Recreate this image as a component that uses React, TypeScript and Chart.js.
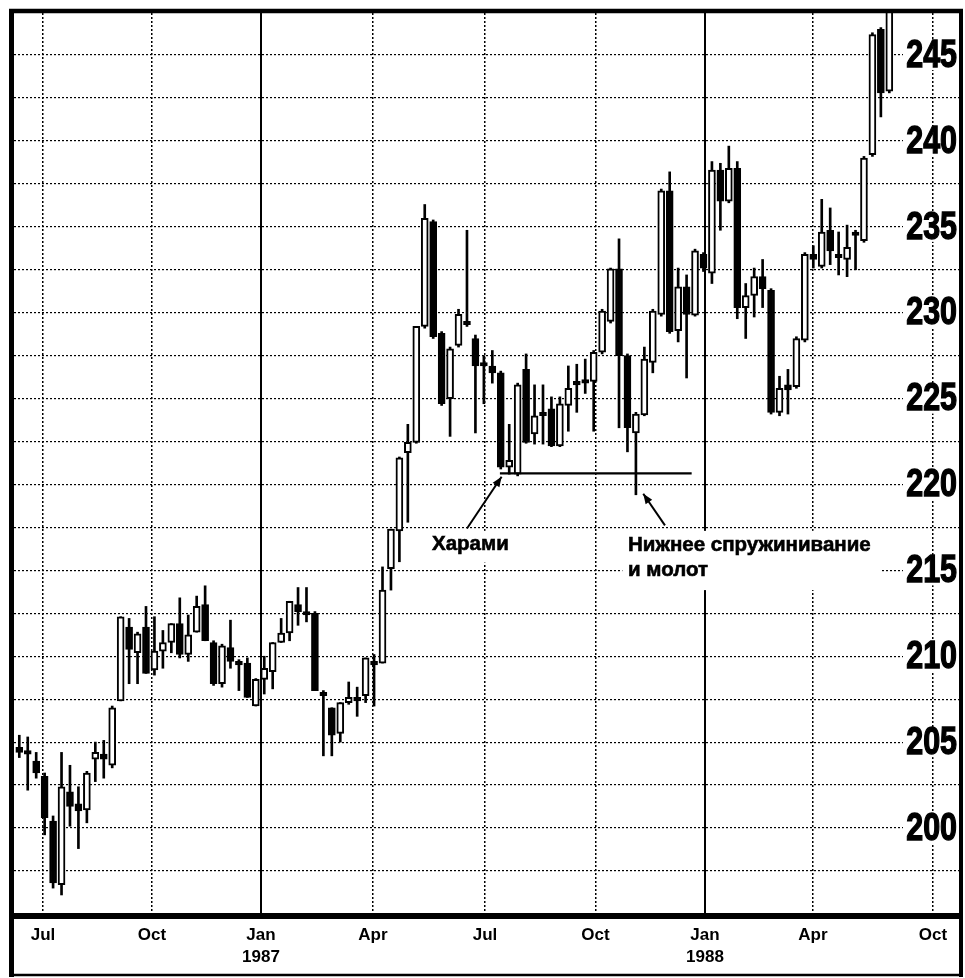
import React, { useEffect, useRef } from 'react';
import { Chart, registerables } from 'chart.js';

Chart.register(...registerables);

// Weekly candles, Jul 1986 .. Jun 1988 (index = week number)
const OPEN = [
  204.7, 204.5, 203.9, 203.0, 200.4, 196.7, 202.1, 201.4, 201.05, 204.0,
  204.3, 203.65, 207.4, 211.7, 210.2, 211.7, 209.2, 210.3, 210.8, 211.9,
  210.1, 211.4, 213.0, 210.8, 208.4, 210.5, 209.7, 209.6, 207.1, 208.65,
  209.1, 210.8, 211.35, 213.0, 212.6, 212.5, 207.9, 207.0, 205.5, 207.3,
  207.6, 207.7, 209.7, 209.6, 215.1, 217.3, 221.85, 222.45, 229.2, 235.3,
  228.8, 225.0, 228.1, 229.5, 228.5, 227.1, 226.9, 226.5, 221.0, 220.6,
  226.7, 222.95, 224.2, 224.4, 222.25, 224.6, 226.0, 226.1, 226.0, 227.7,
  229.5, 232.55, 227.5, 223.0, 224.05, 227.1, 229.9, 237.1, 228.95, 231.5,
  229.85, 233.4, 232.3, 238.3, 236.5, 238.4, 230.3, 231.0, 232.1, 231.3,
  224.2, 225.8, 225.7, 228.4, 233.4, 232.7, 234.8, 233.4, 233.1, 234.7,
  234.2, 239.2, 246.5, 242.9,
];
const HIGH = [
  205.4, 205.3, 204.4, 203.2, 200.7, 204.4, 203.65, 202.4, 203.3, 205.0,
  205.1, 207.1, 212.3, 212.2, 211.4, 212.9, 212.3, 211.5, 211.9, 213.4,
  212.4, 213.5, 214.1, 210.9, 210.7, 212.1, 209.8, 209.9, 208.7, 210.0,
  210.8, 212.2, 213.2, 214.0, 214.0, 212.6, 208.0, 207.0, 207.3, 208.5,
  208.2, 209.9, 210.1, 215.2, 217.4, 221.6, 223.5, 229.2, 236.3, 235.4,
  228.9, 228.0, 230.2, 234.8, 228.7, 227.5, 227.8, 226.6, 223.5, 225.9,
  227.6, 225.8, 225.8, 225.1, 225.1, 226.9, 227.0, 227.3, 227.8, 230.2,
  232.6, 234.3, 227.6, 224.2, 228.0, 230.2, 237.2, 238.2, 232.6, 232.2,
  233.7, 233.5, 238.8, 238.7, 239.7, 238.8, 231.7, 232.6, 233.1, 231.4,
  226.3, 226.7, 228.6, 233.5, 233.9, 236.6, 236.1, 234.7, 235.1, 234.8,
  239.1, 246.3, 246.6, 248.0,
];
const LOW = [
  204.1, 202.2, 202.9, 199.6, 196.5, 196.1, 200.1, 198.8, 200.3, 202.7,
  202.9, 203.5, 207.4, 208.4, 208.4, 209.0, 208.9, 209.3, 210.2, 209.9,
  209.7, 211.4, 210.9, 208.3, 208.2, 209.3, 208.0, 207.6, 207.1, 207.8,
  208.1, 210.8, 210.9, 211.8, 212.0, 208.0, 204.2, 204.2, 205.0, 207.2,
  206.5, 207.3, 207.1, 209.6, 213.85, 215.5, 217.8, 222.4, 229.1, 228.5,
  224.6, 222.8, 228.0, 229.2, 223.0, 224.7, 225.9, 220.9, 220.6, 220.5,
  222.4, 222.35, 222.35, 222.2, 222.2, 223.1, 224.2, 225.3, 223.1, 227.6,
  229.4, 223.3, 221.9, 219.4, 224.0, 226.5, 229.8, 228.8, 228.3, 226.2,
  229.8, 232.4, 231.7, 234.8, 236.4, 229.65, 228.5, 229.75, 230.3, 224.1,
  224.0, 224.1, 225.6, 228.3, 232.6, 232.6, 232.8, 232.2, 232.1, 232.5,
  234.1, 239.1, 241.4, 242.8,
];
const CLOSE = [
  204.4, 204.3, 203.2, 200.6, 196.8, 202.4, 201.25, 201.0, 203.2, 204.4,
  204.0, 207.0, 212.3, 210.4, 211.3, 209.0, 210.3, 210.8, 211.9, 210.1,
  211.25, 212.9, 210.9, 208.4, 210.6, 209.7, 209.5, 207.6, 208.65, 209.3,
  210.8, 211.35, 213.2, 212.6, 212.4, 208.0, 207.7, 205.4, 207.3, 207.6,
  207.4, 209.9, 209.5, 213.85, 217.4, 221.55, 222.45, 229.2, 235.5, 228.6,
  224.7, 227.9, 229.9, 229.3, 226.9, 226.9, 226.5, 221.0, 221.4, 225.8,
  222.45, 224.0, 224.0, 222.25, 224.7, 225.6, 225.8, 225.9, 227.7, 230.1,
  232.55, 227.5, 223.3, 224.1, 227.3, 230.1, 237.1, 228.9, 231.5, 229.9,
  233.6, 232.6, 238.3, 236.5, 238.4, 230.3, 231.0, 232.1, 231.4, 224.2,
  225.6, 225.5, 228.5, 233.4, 233.1, 234.7, 233.6, 233.2, 233.8, 234.5,
  239.0, 246.2, 242.8, 247.6,
];

// Quarter tick positions (in week units) and their labels
const X_TICK_POS = [2.81, 15.71, 28.61, 41.87, 55.13, 68.21, 81.18, 93.96, 108.17];
const X_TICK_LABELS = [['Jul'], ['Oct'], ['Jan', '1987'], ['Apr'], ['Jul'], ['Oct'], ['Jan', '1988'], ['Apr'], ['Oct']];
const YEAR_LINES = [28.61, 81.18];

const X_MIN = -0.627;
const X_MAX = 111.25;
const Y_MIN = 195.05;
const Y_MAX = 247.45;
const Y_STEP = 2.5;

// Annotations (data coordinates: week index, price)
const HARAMI_TEXT = 'Харами';
const HAMMER_TEXT = ['Нижнее спружинивание', 'и молот'];
const SUPPORT = { from: 56.9, to: 79.6, level: 220.65 };
const HARAMI_ARROW = { x0: 53.0, y0: 217.44, x1: 57.1, y1: 220.45 };
const HAMMER_ARROW = { x0: 76.44, y0: 217.62, x1: 73.87, y1: 219.46 };
const HARAMI_POS = { x: 48.86, y: 216.5 };
const HAMMER_POS = { x: 72.06, y: 216.45, y2: 214.99 };
const LABEL_BOXES = [
  { x0: 48.4, x1: 58.3, y0: 215.45, y1: 217.3 },
  { x0: 71.4, x1: 101.9, y0: 213.85, y1: 217.3 },
];

const FONT = '"Liberation Sans", Arial, Helvetica, sans-serif';

const yLabel = (v: number) => (v % 5 === 0 && v >= 200 ? String(v) : '');

function arrow(ctx: CanvasRenderingContext2D, x0: number, y0: number, x1: number, y1: number) {
  ctx.beginPath();
  ctx.moveTo(x0, y0);
  ctx.lineTo(x1, y1);
  ctx.stroke();
  const a = Math.atan2(y1 - y0, x1 - x0);
  const len = 10;
  const hw = 4;
  ctx.beginPath();
  ctx.moveTo(x1, y1);
  ctx.lineTo(x1 - len * Math.cos(a) + hw * Math.sin(a), y1 - len * Math.sin(a) - hw * Math.cos(a));
  ctx.lineTo(x1 - len * Math.cos(a) - hw * Math.sin(a), y1 - len * Math.sin(a) + hw * Math.cos(a));
  ctx.closePath();
  ctx.fill();
}

const annotationPlugin = {
  id: 'annotations',
  beforeDatasetsDraw(chart: any) {
    const { ctx, scales } = chart;
    const x = scales.x;
    const y = scales.y;
    ctx.save();
    ctx.fillStyle = '#fff';
    for (const b of LABEL_BOXES) {
      const l = x.getPixelForValue(b.x0);
      const r = x.getPixelForValue(b.x1);
      const t = y.getPixelForValue(b.y1);
      const bt = y.getPixelForValue(b.y0);
      ctx.fillRect(l, t, r - l, bt - t);
    }
    ctx.restore();
  },
  afterDatasetsDraw(chart: any) {
    const { ctx, scales, chartArea } = chart;
    const x = scales.x;
    const y = scales.y;
    ctx.save();
    ctx.strokeStyle = '#000';
    ctx.fillStyle = '#000';
    ctx.lineWidth = 2.2;
    ctx.beginPath();
    ctx.moveTo(x.getPixelForValue(SUPPORT.from), y.getPixelForValue(SUPPORT.level));
    ctx.lineTo(x.getPixelForValue(SUPPORT.to), y.getPixelForValue(SUPPORT.level));
    ctx.stroke();
    ctx.lineWidth = 2;
    arrow(ctx, x.getPixelForValue(HARAMI_ARROW.x0), y.getPixelForValue(HARAMI_ARROW.y0),
      x.getPixelForValue(HARAMI_ARROW.x1), y.getPixelForValue(HARAMI_ARROW.y1));
    arrow(ctx, x.getPixelForValue(HAMMER_ARROW.x0), y.getPixelForValue(HAMMER_ARROW.y0),
      x.getPixelForValue(HAMMER_ARROW.x1), y.getPixelForValue(HAMMER_ARROW.y1));
    ctx.font = 'bold 20.5px ' + FONT;
    ctx.textAlign = 'left';
    ctx.textBaseline = 'middle';
    ctx.lineWidth = 0.6;
    const texts: [string, number, number][] = [
      [HARAMI_TEXT, HARAMI_POS.x, HARAMI_POS.y],
      [HAMMER_TEXT[0], HAMMER_POS.x, HAMMER_POS.y],
      [HAMMER_TEXT[1], HAMMER_POS.x, HAMMER_POS.y2],
    ];
    for (const [s, vx, vy] of texts) {
      const px = x.getPixelForValue(vx);
      const py = y.getPixelForValue(vy);
      ctx.fillText(s, px, py);
      ctx.strokeText(s, px, py);
    }

    // price labels of the y scale, condensed, inside the plot on the right
    const rightEdge = chartArea.right - 2;
    for (const t of y.ticks) {
      const label = yLabel(t.value);
      if (!label) continue;
      const py = y.getPixelForValue(t.value);
      ctx.fillStyle = '#fff';
      ctx.fillRect(rightEdge - 54, py - 15, 56, 30);
      ctx.save();
      ctx.translate(rightEdge, py + 1);
      ctx.scale(0.78, 1);
      ctx.fillStyle = '#000';
      ctx.strokeStyle = '#000';
      ctx.lineWidth = 1.4;
      ctx.font = 'bold 39px ' + FONT;
      ctx.textAlign = 'right';
      ctx.textBaseline = 'middle';
      ctx.fillText(label, 0, 0);
      ctx.strokeText(label, 0, 0);
      ctx.restore();
    }
    ctx.restore();
  },
  afterDraw(chart: any) {
    const { ctx, chartArea } = chart;
    const { left, right, top, bottom } = chartArea;
    const H = chart.height;
    ctx.save();
    ctx.strokeStyle = '#000';
    ctx.lineCap = 'butt';
    ctx.lineWidth = 5;
    ctx.beginPath();
    ctx.moveTo(left - 2.5, top - 4);
    ctx.lineTo(left - 2.5, H - 1);
    ctx.stroke();
    ctx.lineWidth = 4.5;
    ctx.beginPath();
    ctx.moveTo(left - 5, top - 2);
    ctx.lineTo(right + 4, top - 2);
    ctx.stroke();
    ctx.lineWidth = 4;
    ctx.beginPath();
    ctx.moveTo(right + 2, top - 4);
    ctx.lineTo(right + 2, H - 1);
    ctx.stroke();
    ctx.lineWidth = 6;
    ctx.beginPath();
    ctx.moveTo(left - 5, bottom + 3);
    ctx.lineTo(right + 4, bottom + 3);
    ctx.stroke();
    ctx.lineWidth = 2.5;
    ctx.beginPath();
    ctx.moveTo(left - 5, H - 3);
    ctx.lineTo(right + 4, H - 3);
    ctx.stroke();
    ctx.restore();
  },
};

export default function App() {
  const ref = useRef<HTMLCanvasElement>(null);

  useEffect(() => {
    if (!ref.current) return;
    const idx = OPEN.map((_, i) => i);
    const chart = new Chart(ref.current, {
      type: 'bar',
      data: {
        datasets: [
          {
            label: 'range',
            data: idx.map((i) => ({ x: i, y: [LOW[i], HIGH[i]] })) as any,
            backgroundColor: '#000',
            borderWidth: 0,
            barThickness: 2,
            grouped: false,
            order: 2,
          },
          {
            label: 'body',
            data: idx.map((i) => ({ x: i, y: [OPEN[i], CLOSE[i]] })) as any,
            backgroundColor: (c: any) => (CLOSE[c.dataIndex] >= OPEN[c.dataIndex] ? '#fff' : '#000'),
            borderColor: '#000',
            borderWidth: 2,
            borderSkipped: false,
            barThickness: 7,
            minBarLength: 3,
            grouped: false,
            order: 1,
          },
        ],
      },
      options: {
        animation: false,
        responsive: false,
        maintainAspectRatio: false,
        devicePixelRatio: 1,
        events: [],
        layout: { padding: { left: 14, right: 6, top: 13, bottom: 0 } },
        plugins: { legend: { display: false }, tooltip: { enabled: false } },
        scales: {
          x: {
            type: 'linear',
            position: 'bottom',
            offset: false,
            min: X_MIN,
            max: X_MAX,
            afterBuildTicks: (s: any) => {
              s.ticks = X_TICK_POS.map((v) => ({ value: v }));
            },
            afterFit: (s: any) => {
              s.height = 65;
              s.paddingLeft = 0;
              s.paddingRight = 0;
            },
            ticks: {
              autoSkip: false,
              maxRotation: 0,
              minRotation: 0,
              padding: 11,
              color: '#000',
              font: { family: FONT, size: 17, weight: 'bold', lineHeight: 1.3 },
              callback: (_v: any, i: number) => X_TICK_LABELS[i],
            },
            grid: { color: '#000', lineWidth: 1.5, drawTicks: false, offset: false },
            border: { display: false, dash: [2, 2] },
          },
          x2: {
            type: 'linear',
            position: 'bottom',
            offset: false,
            min: X_MIN,
            max: X_MAX,
            afterBuildTicks: (s: any) => {
              s.ticks = YEAR_LINES.map((v) => ({ value: v }));
            },
            afterFit: (s: any) => {
              s.height = 0;
              s.paddingLeft = 0;
              s.paddingRight = 0;
            },
            ticks: { display: false },
            grid: { color: '#000', lineWidth: 2, drawTicks: false, offset: false },
            border: { display: false },
          },
          y: {
            type: 'linear',
            position: 'right',
            min: Y_MIN,
            max: Y_MAX,
            afterFit: (s: any) => {
              s.width = 0;
              s.paddingTop = 0;
              s.paddingBottom = 0;
            },
            ticks: {
              stepSize: Y_STEP,
              includeBounds: false,
              display: false,
              callback: (v: any) => yLabel(Number(v)),
            },
            grid: { color: '#000', lineWidth: 1.2, drawTicks: false },
            border: { display: false, dash: [2, 2] },
          },
        },
      } as any,
      plugins: [annotationPlugin],
    });
    return () => chart.destroy();
  }, []);

  return (
    <div style={{ position: 'fixed', left: 0, top: 0, width: 965, height: 978, background: '#fff' }}>
      <canvas ref={ref} width={965} height={978} style={{ display: 'block', width: 965, height: 978 }} />
    </div>
  );
}
